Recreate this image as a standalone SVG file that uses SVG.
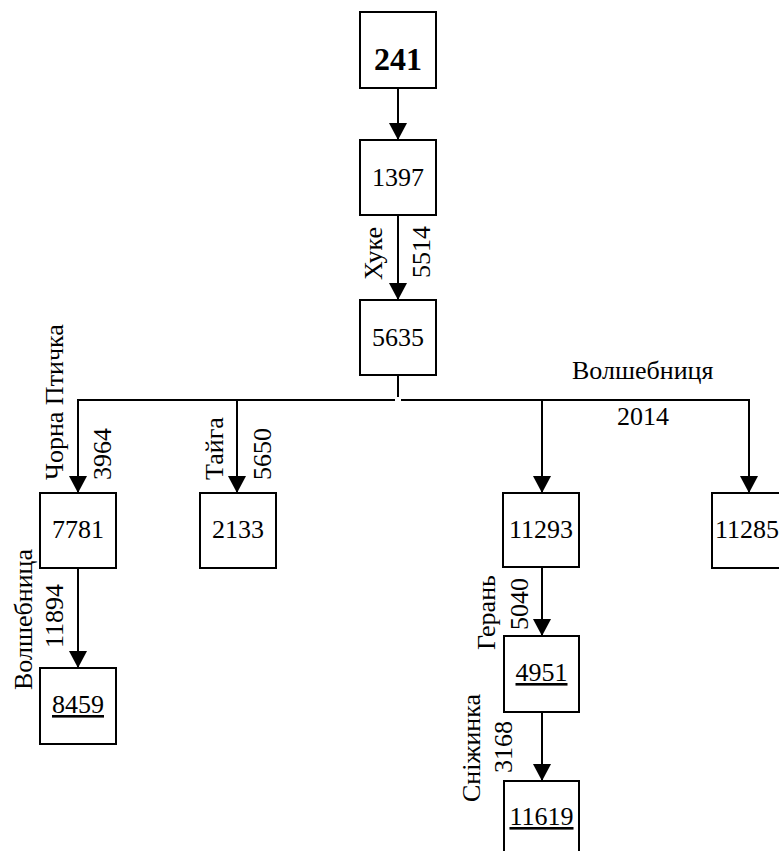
<svg xmlns="http://www.w3.org/2000/svg" width="779" height="851" viewBox="0 0 779 851">
<style>
.box{fill:#fff;stroke:#000;stroke-width:2}
.ln{fill:none;stroke:#000;stroke-width:2}
.t{font-family:'Liberation Serif','Times New Roman','DejaVu Serif',serif;font-size:26px;fill:#000}
.c{text-anchor:middle}
.b{font-weight:bold;font-size:32px}
.u{text-decoration:underline}
</style>
<defs>
<marker id="ah" markerUnits="userSpaceOnUse" markerWidth="18" markerHeight="18" viewBox="0 0 18 18" refX="17" refY="9" orient="auto">
<path d="M0,0 L17,9 L0,18 Z" fill="#000"/>
</marker>
</defs>
<rect width="779" height="851" fill="#fff"/>
<g id="connectors">
<line class="ln" x1="398" y1="88" x2="398" y2="140" marker-end="url(#ah)"/>
<line class="ln" x1="398" y1="215" x2="398" y2="300" marker-end="url(#ah)"/>
<line class="ln" x1="398" y1="375" x2="398" y2="397"/>
<line class="ln" x1="77" y1="400" x2="395" y2="400"/>
<line class="ln" x1="401" y1="400" x2="750" y2="400"/>
<line class="ln" x1="78" y1="399" x2="78" y2="493" marker-end="url(#ah)"/>
<line class="ln" x1="237" y1="400" x2="237" y2="493" marker-end="url(#ah)"/>
<line class="ln" x1="542" y1="400" x2="542" y2="493" marker-end="url(#ah)"/>
<line class="ln" x1="749" y1="399" x2="749" y2="493" marker-end="url(#ah)"/>
<line class="ln" x1="78" y1="568" x2="78" y2="668" marker-end="url(#ah)"/>
<line class="ln" x1="542" y1="567" x2="542" y2="636" marker-end="url(#ah)"/>
<line class="ln" x1="542" y1="712" x2="542" y2="781" marker-end="url(#ah)"/>
<g font-family="'Liberation Serif', 'Times New Roman', serif">
<text class="t" transform="translate(382,280) rotate(-90)">Хуке</text>
<text class="t" transform="translate(430,278) rotate(-90)">5514</text>
<text class="t" transform="translate(63,480) rotate(-90)">Чорна Птичка</text>
<text class="t" transform="translate(111,480) rotate(-90)">3964</text>
<text class="t" transform="translate(223,480) rotate(-90)">Тайга</text>
<text class="t" transform="translate(271,480) rotate(-90)">5650</text>
<text class="t" x="572" y="379">Волшебниця</text>
<text class="t" x="617" y="425">2014</text>
<text class="t" transform="translate(32,690) rotate(-90)">Волшебница</text>
<text class="t" transform="translate(63,648) rotate(-90)">11894</text>
<text class="t" transform="translate(495,650) rotate(-90)">Герань</text>
<text class="t" transform="translate(528,630) rotate(-90)">5040</text>
<text class="t" transform="translate(480,802) rotate(-90)">Сніжинка</text>
<text class="t" transform="translate(512,773) rotate(-90)">3168</text>
</g>
</g>
<g id="n241"><rect class="box" x="360" y="12" width="76" height="76"/><text class="t c b" x="398" y="70">241</text></g>
<g id="n1397"><rect class="box" x="360" y="140" width="76" height="75"/><text class="t c" x="398" y="186">1397</text></g>
<g id="n5635"><rect class="box" x="360" y="300" width="76" height="75"/><text class="t c" x="398" y="346">5635</text></g>
<g id="n7781"><rect class="box" x="40" y="493" width="76" height="75"/><text class="t c" x="78" y="538">7781</text></g>
<g id="n2133"><rect class="box" x="200" y="493" width="76" height="75"/><text class="t c" x="238" y="538">2133</text></g>
<g id="n11293"><rect class="box" x="503" y="493" width="76" height="74"/><text class="t c" x="541" y="538">11293</text></g>
<g id="n11285"><rect class="box" x="712" y="493" width="76" height="75"/><text class="t" x="715" y="538">11285</text></g>
<g id="n8459"><rect class="box" x="40" y="668" width="76" height="76"/><text class="t c u" x="78" y="713">8459</text></g>
<g id="n4951"><rect class="box" x="504" y="636" width="75" height="76"/><text class="t c u" x="541.5" y="681">4951</text></g>
<g id="n11619"><rect class="box" x="504" y="781" width="75" height="80"/><text class="t c u" x="541.5" y="825">11619</text></g>
</svg>
